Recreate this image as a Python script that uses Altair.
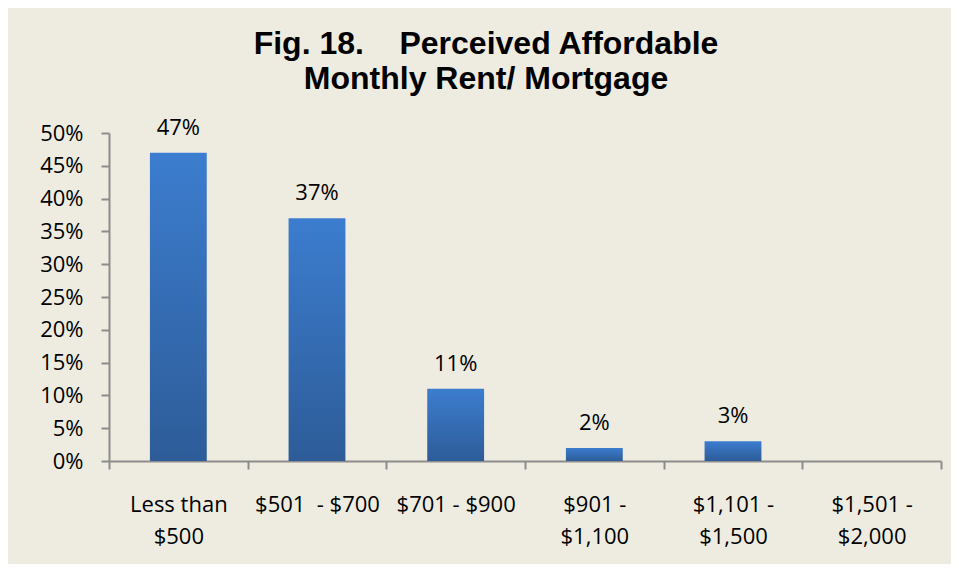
import altair as alt
import pandas as pd

NB = "\u00a0"
categories = ["Less than|$500", "$501" + NB + NB + "- $700", "$701 - $900",
              "$901 -|$1,100", "$1,101 -|$1,500", "$1,501 -|$2,000"]
values = [0.47, 0.37, 0.11, 0.02, 0.03, 0.0]
y_ticks = [0, 0.05, 0.10, 0.15, 0.20, 0.25, 0.30, 0.35, 0.40, 0.45, 0.50]
title_lines = ["Fig. 18." + NB * 4 + "Perceived Affordable", "Monthly Rent/ Mortgage"]

df = pd.DataFrame({"cat": categories, "value": values})

FONT = "Open Sans"
AXIS_GRAY = "#8C8C8C"

x_enc = alt.X(
    "cat:N", sort=categories,
    scale=alt.Scale(paddingInner=0, paddingOuter=0),
    axis=alt.Axis(
        title=None, labelAngle=0, labelExpr="split(datum.label, '|')",
        tickBand="extent", labelLineHeight=32, labelPadding=25, tickSize=8,
        labelFontSize=22, labelFont=FONT, labelColor="black",
        domainColor=AXIS_GRAY, tickColor=AXIS_GRAY, domainWidth=2, tickWidth=2,
        labelOverlap=False, labelLimit=0, labelBaseline="top",
    ),
)
y_enc = alt.Y(
    "value:Q",
    scale=alt.Scale(domain=[0, 0.5], nice=False),
    axis=alt.Axis(
        title=None, format=".0%", values=y_ticks, tickSize=8, labelPadding=18,
        grid=False, labelFontSize=22, labelFont=FONT, labelColor="black",
        domainColor=AXIS_GRAY, tickColor=AXIS_GRAY, domainWidth=2, tickWidth=2,
        labelOverlap=False,
    ),
)

base = alt.Chart(df)

bars = base.mark_bar(
    width=alt.RelativeBandSize(0.41),
    color=alt.Gradient(
        gradient="linear",
        stops=[alt.GradientStop(color="#3C7DCF", offset=0),
               alt.GradientStop(color="#2D5C98", offset=1)],
        x1=0, x2=0, y1=0, y2=1,
    ),
).encode(x=x_enc, y=y_enc)

text = base.transform_filter("datum.value > 0").mark_text(
    dy=-18, baseline="alphabetic", font=FONT, fontSize=22, color="black"
).encode(x=x_enc, y=y_enc, text=alt.Text("value:Q", format=".0%"))

chart = alt.layer(bars, text).properties(
    width=832, height=328,
    autosize=alt.AutoSizeParams(type="none"),
    padding={"left": 101, "top": 125, "right": 10, "bottom": 103},
    background="#EEECE1",
    title=alt.Title(
        title_lines, font="Liberation Sans", fontSize=32, fontWeight="bold",
        lineHeight=35, anchor="middle", dx=-39, dy=-17, color="black",
    ),
).configure_view(stroke=None)

chart.save("out.html", embed_options={"renderer": "svg", "actions": False})
